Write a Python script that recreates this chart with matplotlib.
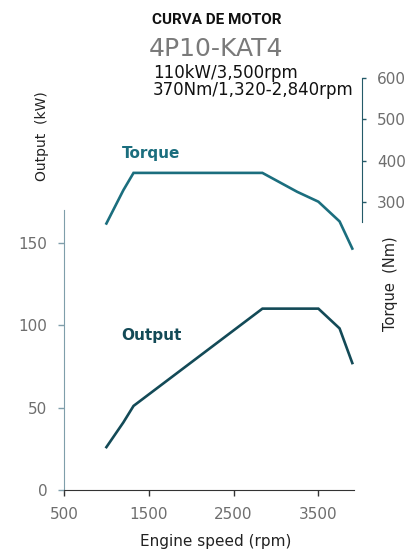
import matplotlib
matplotlib.use("Agg")
import matplotlib.pyplot as plt

rpm = [1000, 1200, 1320, 2840, 3250, 3500, 3750, 3900]
torque = [247, 328, 370, 370, 324, 300, 252, 186]
output = [26, 41, 51, 110, 110, 110, 98, 77]

x_ticks = [500, 1500, 2500, 3500]
kw_ticks = [0, 50, 100, 150]
nm_ticks = [300, 400, 500, 600]

W, H = 417, 551
fig = plt.figure(figsize=(W / 100, H / 100), dpi=100)

left_px, right_px, bottom_px, top_px = 64, 354, 490, 60
ax = fig.add_axes([left_px / W, 1 - bottom_px / H, (right_px - left_px) / W, (bottom_px - top_px) / H])
ax.set_facecolor("none")
ax2 = ax.twinx()

torque_c = "#1b6e7e"
output_c = "#134a57"
tick_gray = "#6e6e6e"

ax.plot(rpm, output, color=output_c, lw=1.9, solid_joinstyle="miter")
ax2.plot(rpm, torque, color=torque_c, lw=1.9, solid_joinstyle="miter")

ax.set_xlim(500, 3920)
ax.set_ylim(0, 260.8)
ax2.set_ylim(-401, 644.5)

ax.set_xticks(x_ticks)
ax.set_yticks(kw_ticks)
ax2.set_yticks(nm_ticks)

for s in ["top", "right"]:
    ax.spines[s].set_visible(False)
for s in ["top", "left", "bottom"]:
    ax2.spines[s].set_visible(False)
ax.spines["left"].set_bounds(0, 170)
ax.spines["left"].set_color("#7f9eaa")
ax.spines["bottom"].set_color("#333333")
ax2.spines["right"].set_bounds(250, 600)
ax2.spines["right"].set_position(("outward", 5.5))
ax2.spines["right"].set_color("#245a68")

ax.tick_params(axis="x", direction="out", length=4, width=1, colors="#333333",
               labelcolor=tick_gray, labelsize=11, pad=8)
ax.tick_params(axis="y", direction="out", length=4, width=1, colors="#7f9eaa",
               labelcolor=tick_gray, labelsize=11, pad=8)
ax2.tick_params(axis="y", direction="out", length=3, width=1, colors="#245a68",
                labelcolor=tick_gray, labelsize=11, pad=8)

ax.text(1170, 94, "Output", color=output_c, fontsize=11, fontweight="bold",
        ha="left", va="center")
ax2.text(1180, 418, "Torque", color=torque_c, fontsize=11, fontweight="bold",
         ha="left", va="center")

fig.text(217 / W, 1 - 19.5 / H, "CURVA DE MOTOR", family="Roboto", fontweight="bold",
         fontsize=11, ha="center", va="center", color="#111111")
fig.text(216 / W, 1 - 49 / H, "4P10-KAT4", fontsize=18, ha="center", va="center",
         color="#7a7a7a")
fig.text(153 / W, 1 - 73 / H, "110kW/3,500rpm", fontsize=12, ha="left", va="center",
         color="#111111")
fig.text(153 / W, 1 - 90 / H, "370Nm/1,320-2,840rpm", fontsize=12, ha="left", va="center",
         color="#111111")
fig.text(42 / W, 1 - 136 / H, "Output  (kW)", fontsize=10, rotation=90, ha="center",
         va="center", color="#222222")
fig.text(390 / W, 1 - 284 / H, "Torque  (Nm)", fontsize=10.5, rotation=90, ha="center",
         va="center", color="#222222")
fig.text(216 / W, 1 - 541.7 / H, "Engine speed (rpm)", fontsize=11, ha="center",
         va="center", color="#222222")

fig.savefig("out.png", dpi=100)
